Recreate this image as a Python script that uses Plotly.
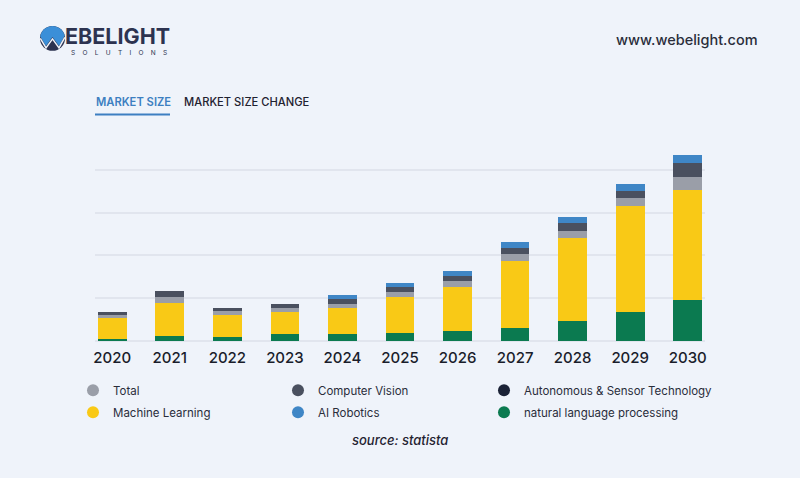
import math
import plotly.graph_objects as go

years = ["2020", "2021", "2022", "2023", "2024", "2025", "2026", "2027", "2028", "2029", "2030"]

nlp = [5.8, 11.2, 9.8, 15.8, 17.4, 19.8, 22.8, 30.7, 47.7, 67.0, 96.5]
machine_learning = [48.1, 77.7, 50.2, 52.1, 58.8, 83.0, 103.3, 157.2, 192.3, 248.8, 257.4]
total = [7.0, 13.0, 10.2, 8.4, 10.9, 10.7, 13.0, 15.6, 17.0, 17.2, 29.3]
computer_vision = [7.0, 14.0, 7.0, 10.9, 11.6, 12.1, 13.3, 14.7, 17.9, 17.0, 32.6]
autonomous = [0, 0, 0, 0, 0, 0, 0, 0, 0, 0, 0]
ai_robotics = [0, 0, 0, 0, 7.7, 9.8, 11.6, 12.6, 15.3, 17.9, 19.5]

legend_order = ["Total", "Computer Vision", "Autonomous & Sensor Technology",
                "Machine Learning", "AI Robotics", "natural language processing"]

COL = {
    "Total": "#9a9ea8",
    "Computer Vision": "#4a505f",
    "Autonomous & Sensor Technology": "#1b2236",
    "Machine Learning": "#f9c916",
    "AI Robotics": "#3f86c6",
    "natural language processing": "#0b7a50",
}

BG = "#eff3fa"
FONT = "Inter, 'Open Sans', sans-serif"

stack = [
    ("natural language processing", nlp),
    ("Machine Learning", machine_learning),
    ("Total", total),
    ("Computer Vision", computer_vision),
    ("Autonomous & Sensor Technology", autonomous),
    ("AI Robotics", ai_robotics),
]

fig = go.Figure()
for name, vals in stack:
    fig.add_trace(go.Bar(x=years, y=vals, name=name, marker=dict(color=COL[name], line=dict(width=0)),
                         width=0.5, showlegend=False))

legend_ids = ["legend", "legend2", "legend3", "legend4", "legend5", "legend6"]
for lg, name in zip(legend_ids, legend_order):
    fig.add_trace(go.Scatter(x=[None], y=[None], mode="markers", name=name, legend=lg,
                             marker=dict(color=COL[name], size=12, symbol="circle")))

# pixel -> paper helpers (plot area: x 95..705, y 126.5..341.5)
L, R, T, B = 95, 705, 126.5, 341.5
def px(x):
    return (x - L) / (R - L)
def py(y):
    return (B - y) / (B - T)

shapes = []
annotations = []

# logo
shapes.append(dict(type="circle", xref="paper", yref="paper", x0=px(40), x1=px(65), y0=py(50), y1=py(25),
                   fillcolor="#2d3350", line=dict(width=0)))
wpts = [(40.3, 35.5), (46, 45), (52.5, 36), (59, 45), (64.8, 34.5)]
arc = []
for i in range(0, 181, 15):
    a = math.radians(i)
    arc.append((52.5 + 12.5 * math.cos(a), 37.5 - 12.5 * math.sin(a)))
cap = [(64.8, 34.5)] + [p for p in arc if p[1] < 35.5] + [(40.3, 35.5)] + wpts[1:]
path = "M " + " L ".join(f"{px(x):.5f},{py(y):.5f}" for x, y in cap) + " Z"
shapes.append(dict(type="path", xref="paper", yref="paper", path=path, fillcolor="#3b8fd8", line=dict(width=0)))
wline = "M " + " L ".join(f"{px(x):.5f},{py(y + 2):.5f}" for x, y in wpts)
shapes.append(dict(type="path", xref="paper", yref="paper", path=wline, line=dict(color=BG, width=1.5)))

annotations.append(dict(x=px(63), y=py(35.5), xref="paper", yref="paper", xanchor="left", yanchor="middle",
                        text="<b>EBELIGHT</b>", showarrow=False,
                        font=dict(family=FONT, size=21.5, color="#2d3350")))
annotations.append(dict(x=px(118.5), y=py(52.5), xref="paper", yref="paper", xanchor="center", yanchor="middle",
                        text="S    O    L    U    T    I    O    N    S", showarrow=False,
                        font=dict(family=FONT, size=6.5, color="#2d3350")))
annotations.append(dict(x=px(760), y=py(39), xref="paper", yref="paper", xanchor="right", yanchor="middle",
                        text="www.webelight.com", showarrow=False,
                        font=dict(family=FONT, size=14.5, color="#2a2d3a", weight=500)))

# tabs
annotations.append(dict(x=px(94), y=py(101), xref="paper", yref="paper", xanchor="left", yanchor="middle",
                        text="MARKET SIZE", showarrow=False,
                        font=dict(family=FONT, size=11.2, color="#3d7fc1", weight=600)))
annotations.append(dict(x=px(182), y=py(101), xref="paper", yref="paper", xanchor="left", yanchor="middle",
                        text="MARKET SIZE CHANGE", showarrow=False,
                        font=dict(family=FONT, size=11.2, color="#1f2230", weight=500)))
shapes.append(dict(type="line", xref="paper", yref="paper", x0=px(95), x1=px(170), y0=py(114), y1=py(114),
                   line=dict(color="#3d7fc1", width=2)))

annotations.append(dict(x=px(400), y=py(441), xref="paper", yref="paper", xanchor="center", yanchor="middle",
                        text="<i>source: statista</i>", showarrow=False,
                        font=dict(family=FONT, size=13, color="#1f2230", weight=500)))

# legend item positions (circle centre in px): columns and rows
col_x = [93, 298, 504]
row_y = [391, 413]
legends = {}
for i, lg in enumerate(legend_ids):
    cx = col_x[i % 3]
    cy = row_y[i // 3]
    legends[lg] = dict(orientation="h", x=px(cx - 20), xanchor="left", y=py(cy), yanchor="middle",
                       font=dict(family=FONT, size=11.5, color="#2a2d3a"),
                       bgcolor="rgba(0,0,0,0)", itemclick=False, itemdoubleclick=False)

fig.update_layout(
    width=800, height=478,
    margin=dict(l=L, r=800 - R, t=T, b=478 - B, pad=0),
    paper_bgcolor=BG, plot_bgcolor=BG,
    barmode="stack",
    font=dict(family=FONT, color="#1f2230"),
    xaxis=dict(range=[-0.3, 10.3], showgrid=False, showline=False, zeroline=False,
               ticks="", ticklabelstandoff=6,
               tickfont=dict(family=FONT, size=15, color="#1a1d2b", weight=500),
               fixedrange=True),
    yaxis=dict(range=[0, 500], dtick=100, showgrid=True, gridcolor="#e1e5ee", gridwidth=1.5,
               zeroline=True, zerolinecolor="#e1e5ee", zerolinewidth=1.5,
               showticklabels=False, fixedrange=True),
    shapes=shapes, annotations=annotations,
    showlegend=True,
    **legends,
)

fig.write_html("out.html", config={"displayModeBar": False},
               post_script="document.body.style.margin='0';document.body.style.background='%s';" % BG)
